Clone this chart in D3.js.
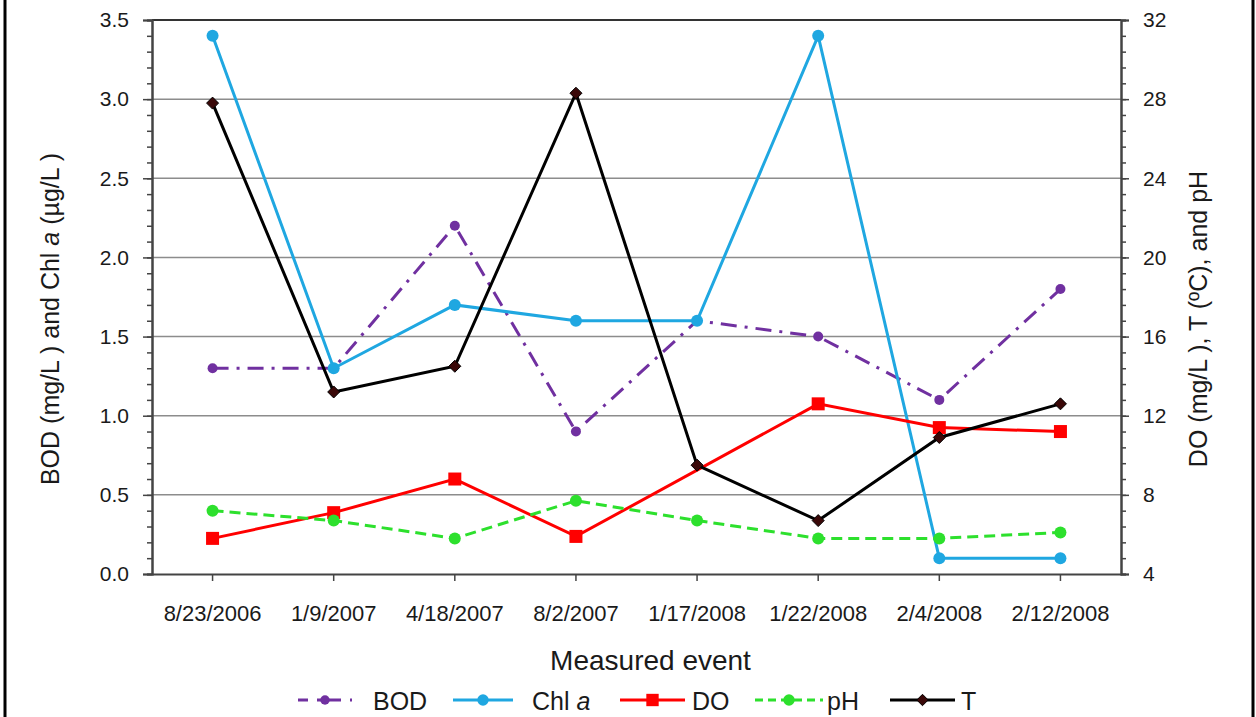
<!DOCTYPE html>
<html>
<head>
<meta charset="utf-8">
<script src="https://cdn.jsdelivr.net/npm/d3@7"></script>
<style>
  html, body { margin: 0; padding: 0; background: #fff; }
  svg { display: block; font-family: "Liberation Sans", Arial, sans-serif; }
</style>
</head>
<body>
<svg id="chart" width="1256" height="717"></svg>
<script>
// Sampling dates (x categories)
const categories = ["8/23/2006", "1/9/2007", "4/18/2007", "8/2/2007", "1/17/2008", "1/22/2008", "2/4/2008", "2/12/2008"];

// Primary axis series: BOD (mg/L) and Chl a (µg/L)
const bod  = [1.3, 1.3, 2.2, 0.9, 1.6, 1.5, 1.1, 1.8];
const chlA = [3.4, 1.3, 1.7, 1.6, 1.6, 3.4, 0.1, 0.1];

// Secondary axis series: DO (mg/L), T (°C), pH  (null = not measured)
const dissolvedO = [5.8, 7.1, 8.8, 5.9, null, 12.6, 11.4, 11.2];
const ph         = [7.2, 6.7, 5.8, 7.7, 6.7, 5.8, 5.8, 6.1];
const temp       = [27.8, 13.2, 14.5, 28.3, 9.5, 6.7, 10.9, 12.6];

// Axis tick values
const leftMajor  = [0, 0.5, 1.0, 1.5, 2.0, 2.5, 3.0, 3.5];
const rightMajor = [4, 8, 12, 16, 20, 24, 28, 32];

const svg = d3.select("#chart");
const plot = { left: 152, right: 1121, top: 20, bottom: 574 };

const x = d3.scaleBand().domain(categories).range([plot.left, plot.right]);
const cx = c => x(c) + x.bandwidth() / 2;
const yL = d3.scaleLinear().domain([0, 3.5]).range([plot.bottom, plot.top]);
const yR = d3.scaleLinear().domain([4, 32]).range([plot.bottom, plot.top]);

// Outer frame (left and right edges)
svg.append("line").attr("x1", 5).attr("x2", 5).attr("y1", 0).attr("y2", 717)
  .attr("stroke", "#000").attr("stroke-width", 3);
svg.append("line").attr("x1", 1253).attr("x2", 1253).attr("y1", 0).attr("y2", 717)
  .attr("stroke", "#000").attr("stroke-width", 3);

// Horizontal gridlines at the left major ticks
svg.append("g").selectAll("line")
  .data(leftMajor.filter(v => v > 0 && v < 3.5))
  .join("line")
  .attr("x1", plot.left).attr("x2", plot.right)
  .attr("y1", d => yL(d)).attr("y2", d => yL(d))
  .attr("stroke", "#8c8c8c").attr("stroke-width", 1.5);

// Top edge of the plot area
svg.append("line").attr("x1", plot.left).attr("x2", plot.right)
  .attr("y1", yL(3.5)).attr("y2", yL(3.5))
  .attr("stroke", "#333").attr("stroke-width", 2);

function styleAxis(g, fontSize) {
  g.select(".domain").attr("stroke", "#444").attr("stroke-width", 2);
  g.selectAll(".tick line").attr("stroke", "#444").attr("stroke-width", 1.5);
  g.selectAll("text").attr("fill", "#1a1a1a").style("font-size", fontSize + "px")
    .style("font-family", "'Liberation Sans', Arial, sans-serif");
}

// Left axis: minor ticks then major ticks with labels
svg.append("g").attr("transform", `translate(${plot.left},0)`)
  .call(d3.axisLeft(yL).tickValues(d3.range(0, 36).map(i => i / 10)).tickSize(5).tickFormat(""))
  .call(g => styleAxis(g, 21));
svg.append("g").attr("transform", `translate(${plot.left},0)`)
  .call(d3.axisLeft(yL).tickValues(leftMajor).tickSize(9).tickPadding(14).tickFormat(d3.format(".1f")))
  .call(g => styleAxis(g, 21));

// Right axis: minor ticks then major ticks with labels
svg.append("g").attr("transform", `translate(${plot.right},0)`)
  .call(d3.axisRight(yR).tickValues(d3.range(0, 36).map(i => 4 + i * 0.8)).tickSize(5).tickFormat(""))
  .call(g => styleAxis(g, 21));
svg.append("g").attr("transform", `translate(${plot.right},0)`)
  .call(d3.axisRight(yR).tickValues(rightMajor).tickSize(8).tickPadding(14).tickFormat(d3.format("d")))
  .call(g => styleAxis(g, 21));

// Bottom axis with ticks at category centres
const xAxis = d3.axisBottom(x).tickSize(7).tickPadding(24).tickSizeOuter(0);
svg.append("g").attr("transform", `translate(0,${plot.bottom})`)
  .call(xAxis)
  .call(g => styleAxis(g, 22));

// Axis titles
svg.append("text")
  .attr("transform", `translate(59,${(plot.top + plot.bottom) / 2 + 22}) rotate(-90)`)
  .attr("text-anchor", "middle").style("font-size", "25px").attr("fill", "#1a1a1a")
  .call(t => {
    t.append("tspan").text("BOD (mg/L ) and Chl ");
    t.append("tspan").style("font-style", "italic").text("a");
    t.append("tspan").text(" (µg/L )");
  });

svg.append("text")
  .attr("transform", `translate(1207,${(plot.top + plot.bottom) / 2 + 22}) rotate(-90)`)
  .attr("text-anchor", "middle").style("font-size", "25px").attr("fill", "#1a1a1a")
  .text("DO (mg/L ), T (ºC), and pH");

svg.append("text")
  .attr("x", (plot.left + plot.right) / 2 + 14).attr("y", 670)
  .attr("text-anchor", "middle").style("font-size", "28px").attr("fill", "#1a1a1a")
  .text("Measured event");

// Series definitions
const series = [
  { name: "BOD", values: bod, y: yL, color: "#7030a0", dash: "16,8,3,8", marker: "circle", size: 5 },
  { name: "Chl a", values: chlA, y: yL, color: "#1fa7e1", dash: null, marker: "circle", size: 6 },
  { name: "DO", values: dissolvedO, y: yR, color: "#ff0000", dash: null, marker: "square", size: 6.5 },
  { name: "pH", values: ph, y: yR, color: "#2de02d", dash: "11,6", marker: "circle", size: 6 },
  { name: "T", values: temp, y: yR, color: "#000000", dash: null, marker: "diamond", size: 6 }
];

function drawMarker(g, type, px, py, s, color) {
  if (type === "circle") {
    g.append("circle").attr("cx", px).attr("cy", py).attr("r", s).attr("fill", color);
  } else if (type === "square") {
    g.append("rect").attr("x", px - s).attr("y", py - s).attr("width", 2 * s).attr("height", 2 * s)
      .attr("fill", color);
  } else if (type === "diamond") {
    g.append("path")
      .attr("d", `M${px},${py - s} L${px + s},${py} L${px},${py + s} L${px - s},${py} Z`)
      .attr("fill", "#3a0808").attr("stroke", "#000").attr("stroke-width", 1);
  }
}

const lineLayer = svg.append("g");
series.forEach(s => {
  // Missing measurements are skipped and the line bridges across them
  const pts = categories
    .map((c, i) => s.values[i] == null ? null : [cx(c), s.y(s.values[i])])
    .filter(p => p !== null);
  const g = lineLayer.append("g");
  g.append("path")
    .attr("d", d3.line()(pts))
    .attr("fill", "none")
    .attr("stroke", s.color)
    .attr("stroke-width", 3)
    .attr("stroke-dasharray", s.dash);
  pts.forEach(p => drawMarker(g, s.marker, p[0], p[1], s.size, s.color));
});

// Legend
const legendItems = [
  { s: series[0], x0: 298, x1: 352, tx: 373, label: ["BOD"] },
  { s: series[1], x0: 453, x1: 513, tx: 532, label: ["Chl ", "a"] },
  { s: series[2], x0: 620, x1: 685, tx: 692, label: ["DO"] },
  { s: series[3], x0: 755, x1: 823, tx: 827, label: ["pH"] },
  { s: series[4], x0: 890, x1: 955, tx: 961, label: ["T"] }
];
const legendY = 700;
const lg = svg.append("g");
legendItems.forEach(item => {
  lg.append("line")
    .attr("x1", item.x0).attr("x2", item.x1).attr("y1", legendY).attr("y2", legendY)
    .attr("stroke", item.s.color).attr("stroke-width", 3)
    .attr("stroke-dasharray", item.s.name === "BOD" ? "10,9,24,9" : item.s.name === "pH" ? "8,5" : null);
  drawMarker(lg, item.s.marker, (item.x0 + item.x1) / 2, legendY, item.s.size * 0.95, item.s.color);
  const t = lg.append("text").attr("x", item.tx).attr("y", legendY + 10)
    .style("font-size", "25px").attr("fill", "#1a1a1a");
  t.append("tspan").text(item.label[0]);
  if (item.label[1]) t.append("tspan").style("font-style", "italic").text(item.label[1]);
});
</script>
</body>
</html>
